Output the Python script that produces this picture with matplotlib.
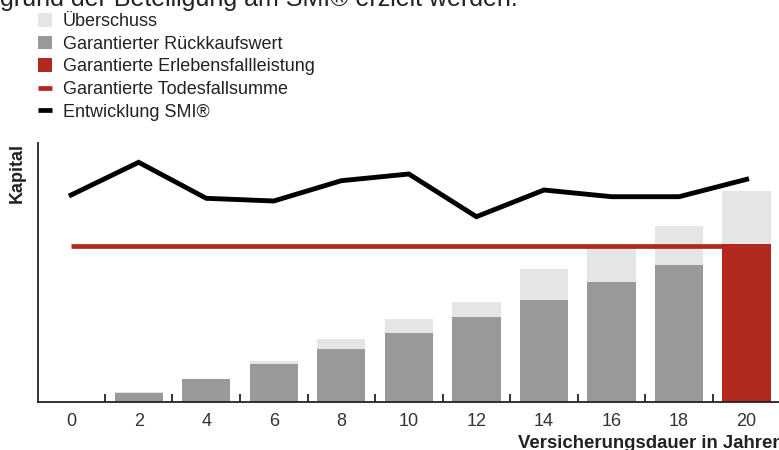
import matplotlib
matplotlib.use("Agg")
import matplotlib.pyplot as plt
from matplotlib.patches import Patch
from matplotlib.lines import Line2D

plt.rcParams['font.family'] = ['Liberation Sans', 'DejaVu Sans']

# Data (arbitrary capital units)
years = [0, 2, 4, 6, 8, 10, 12, 14, 16, 18, 20]
rueckkauf = [0, 8.7, 22.7, 37.7, 53, 69, 85.3, 102, 119.7, 137.3, 0]
ueberschuss = [0, 1.0, 0.5, 3.6, 9.7, 14, 14.4, 31, 36, 39, 52.7]
erlebensfall = [0, 0, 0, 0, 0, 0, 0, 0, 0, 0, 158]
todesfall = 155.7
smi = [207, 239.7, 203.7, 201, 221.3, 228, 185.3, 212, 205.3, 205.3, 222.7]

labels = ["Überschuss", "Garantierter Rückkaufswert", "Garantierte Erlebensfallleistung",
          "Garantierte Todesfallsumme", "Entwicklung SMI®"]

c_light = "#e5e5e5"
c_gray = "#999999"
c_red = "#b0281e"
c_text = "#222222"

W, H = 779, 450
fig = plt.figure(figsize=(W / 100, H / 100), dpi=100)
x0, x1 = 38, 780.4
ybot, ytop = 402, 143
ax = fig.add_axes([x0 / W, (H - ybot) / H, (x1 - x0) / W, (ybot - ytop) / H])

bw = 1.43
ax.bar(years, rueckkauf, width=bw, color=c_gray, zorder=2)
base = [r + e for r, e in zip(rueckkauf, erlebensfall)]
ax.bar(years, erlebensfall, width=bw, color=c_red, zorder=2)
ax.bar(years, ueberschuss, width=bw, bottom=base, color=c_light, zorder=2)
ax.plot([years[0], years[-1]], [todesfall, todesfall], color=c_red, lw=3.4,
        solid_capstyle='butt', zorder=3)
ax.plot(years, smi, color="black", lw=3.5, solid_joinstyle='miter', zorder=4)

ax.set_xlim(-0.98, 21)
ax.set_ylim(0, 259)
for s in ['top', 'right']:
    ax.spines[s].set_visible(False)
for s in ['left', 'bottom']:
    ax.spines[s].set_linewidth(1.3)
    ax.spines[s].set_color("#222222")
ax.set_yticks([])
ax.set_xticks(years)
ax.set_xticklabels([str(y) for y in years], fontsize=13, color="#333333")
ax.tick_params(axis='x', which='major', length=0, pad=8)
ax.set_xticks([y + 1 for y in years[:-1]], minor=True)
ax.tick_params(axis='x', which='minor', direction='in', length=6, width=1.3, color="#222222")

fig.text(17 / W, 1 - 143 / H, "Kapital", rotation=90, fontsize=13, fontweight='bold',
         ha='center', va='top', color=c_text)
fig.text(518 / W, 1 - 443 / H, "Versicherungsdauer in Jahren", fontsize=13.4,
         fontweight='bold', ha='left', va='center', color=c_text)
fig.text(0, 1 - 6 / H, "grund der Beteiligung am SMI® erzielt werden.", fontsize=18,
         ha='left', va='baseline', color=c_text)

handles = [Patch(facecolor=c_light, edgecolor='none'),
           Patch(facecolor=c_gray, edgecolor='none'),
           Patch(facecolor=c_red, edgecolor='none'),
           Line2D([], [], color=c_red, lw=3.4, solid_capstyle='butt'),
           Line2D([], [], color='black', lw=3.4, solid_capstyle='butt')]
leg = fig.legend(handles, labels, loc='upper left', bbox_to_anchor=(38 / W, 1 - 13 / H),
                 frameon=False, fontsize=13, handlelength=0.78, handleheight=0.78,
                 handletextpad=0.6, labelspacing=0.31, borderpad=0, borderaxespad=0)
for t in leg.get_texts():
    t.set_color(c_text)

fig.savefig("out.png", dpi=100)
